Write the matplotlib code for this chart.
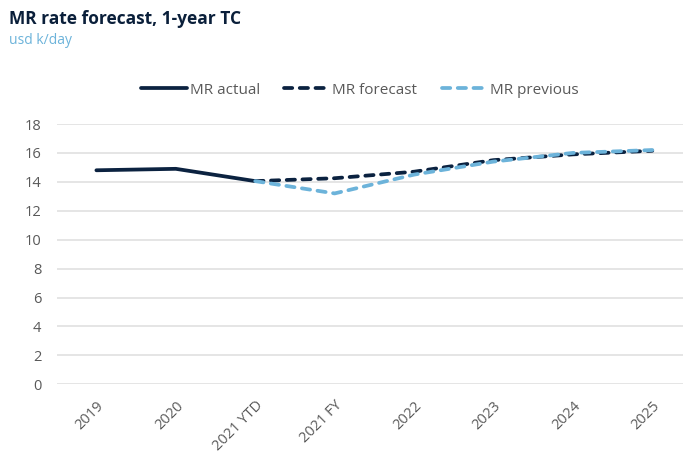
import matplotlib
matplotlib.use("Agg")
import matplotlib.pyplot as plt
import numpy as np

categories = ["2019", "2020", "2021 YTD", "2021 FY", "2022", "2023", "2024", "2025"]
mr_actual = [14.8, 14.9, 14.05, np.nan, np.nan, np.nan, np.nan, np.nan]
mr_forecast = [np.nan, np.nan, 14.05, 14.25, 14.7, 15.5, 15.9, 16.15]
mr_previous = [np.nan, np.nan, 14.05, 13.2, 14.5, 15.4, 16.0, 16.2]
yticks = [0, 2, 4, 6, 8, 10, 12, 14, 16, 18]

NAVY = "#0b2240"
LBLUE = "#6cb3da"
GRAY = "#595959"
FONT = "Open Sans"

W, H = 683, 459
fig = plt.figure(figsize=(W / 100, H / 100), dpi=100)
left = 56.7 / W
bottom = 1 - 384.3 / H
top = 1 - 124 / H
right_px = 692
ax = fig.add_axes([left, bottom, (right_px - 56.7) / W, top - bottom])

x = np.arange(len(categories))
lw = 2.7
l1, = ax.plot(x, mr_actual, color=NAVY, lw=lw, solid_capstyle="round", label="MR actual")
l2, = ax.plot(x, mr_forecast, color=NAVY, lw=lw, ls=(0, (2.2, 2.0)), dash_capstyle="round", label="MR forecast")
l3, = ax.plot(x, mr_previous, color=LBLUE, lw=lw, ls=(0, (2.2, 2.0)), dash_capstyle="round", label="MR previous")

ax.set_xlim(-0.5, len(categories) - 0.5)
ax.set_ylim(0, 18)
ax.set_yticks(yticks)
ax.set_yticklabels([str(v) for v in yticks], fontsize=10.5, color=GRAY, family=FONT)
ax.set_xticks(x)
ax.set_xticklabels(categories, rotation=45, ha="right", rotation_mode="anchor",
                   fontsize=10.5, color=GRAY, family=FONT)
ax.tick_params(axis="both", length=0)
ax.tick_params(axis="y", pad=11)
ax.tick_params(axis="x", pad=10)
ax.grid(axis="y", color="#e0e0e0", lw=1.2)
ax.set_axisbelow(True)
for s in ax.spines.values():
    s.set_visible(False)

fig.text(9 / W, 1 - 19 / H, "MR rate forecast, 1-year TC", fontsize=12.5, fontweight="bold",
         color="#0a1f3a", family=FONT, va="center", ha="left")
fig.text(9 / W, 1 - 40 / H, "usd k/day", fontsize=10, color=LBLUE, family=FONT,
         va="center", ha="left")

fig.legend(handles=[l1, l2, l3], loc="center", bbox_to_anchor=(360 / W, 1 - 90 / H),
           ncol=3, frameon=False, handlelength=3.0, handletextpad=0.15, columnspacing=1.6,
           prop={"family": FONT, "size": 11}, labelcolor=GRAY)

fig.savefig("out.png", dpi=100)
